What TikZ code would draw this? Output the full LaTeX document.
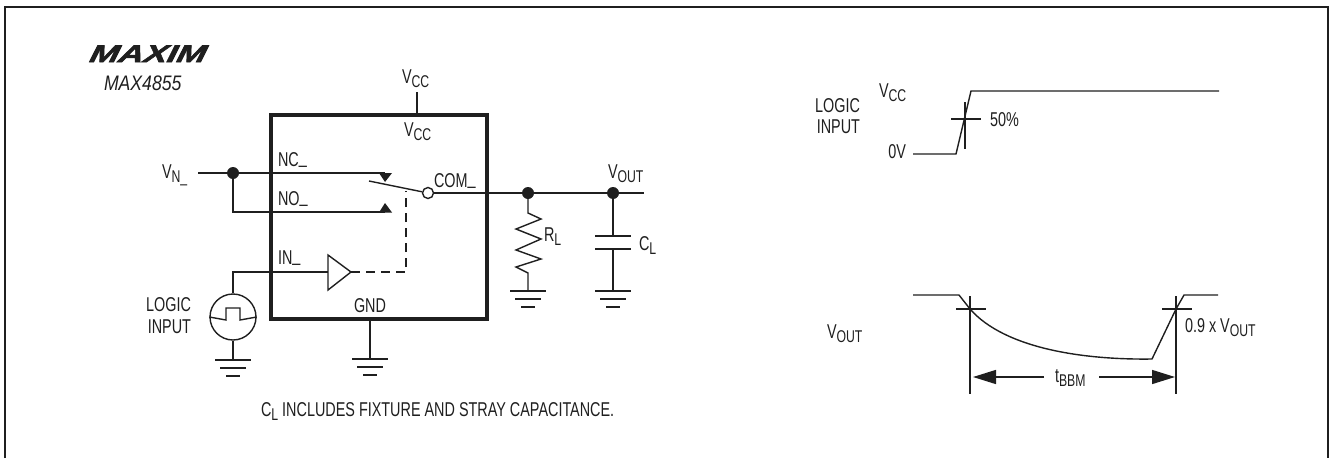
\documentclass[tikz,border=0pt]{standalone}
\usepackage{fontspec}
\setmainfont[FakeStretch=0.72]{Liberation Sans}
\newfontfamily\logofont[FakeStretch=1.45,FakeSlant=0.5,FakeBold=2.5]{Liberation Sans Bold}
\newfontfamily\itfont[FakeStretch=0.84]{Liberation Sans Italic}
\usetikzlibrary{arrows.meta}
\newcommand{\lowered}[1]{\raisebox{-4pt}{\fontsize{17}{18}\selectfont #1}}
\newcommand{\us}{\raisebox{2.5pt}{\_}}
\definecolor{ink}{gray}{0.12}
\tikzset{
  x=1pt,y=-1pt,
  wire/.style={draw=ink,line width=1.4pt},
  frameline/.style={draw=ink,line width=2.6pt},
  chip/.style={draw=ink,line width=3.4pt},
  dashwire/.style={wire,dash pattern=on 9pt off 6pt},
  lab/.style={inner sep=0pt,outer sep=0pt,anchor=base west,text=ink,font=\fontsize{20}{23}\selectfont},
  labc/.style={lab,anchor=base,align=center},
  dot/.style={circle,fill=ink,draw=none,inner sep=0pt,minimum size=12pt},
  ring/.style={circle,draw=ink,line width=1.4pt,fill=white,inner sep=0pt,minimum size=11pt},
  src/.style={circle,draw=ink,line width=1.4pt,inner sep=0pt,minimum size=46pt},
  tip/.style={fill=ink,draw=none},
  dimarrow/.style={wire,-{Triangle[length=23pt,width=14pt]}},
  ground/.pic={
    \coordinate (-top) at (0,0);
    \draw[wire] (-18,0) -- (18,0);
    \draw[wire] (-13,8) -- (13,8);
    \draw[wire] (-7,16) -- (7,16);
  },
}
\begin{document}
\begin{tikzpicture}
\useasboundingbox (0,0) rectangle (1329,458);
% outer frame
\coordinate (fa) at (5,458);
\coordinate (fb) at (5,7);
\coordinate (fc) at (1328,7);
\coordinate (fd) at (1328,458);
\draw[frameline] (fa) -- (fb) -- (fc) -- (fd);
% logo and part number
\node[lab,font=\logofont\fontsize{24}{26}\selectfont] (logo) at (87,62) {MAXIM};
\node[lab,font=\itfont\fontsize{21}{24}\selectfont] (part) at (104,90) {MAX4855};
% chip
\coordinate (c1) at (271,115);
\coordinate (c2) at (487,319);
\draw[chip] (c1) rectangle (c2);
\node[lab] (vcctop) at (402,83) {V\lowered{CC}};
\node[lab] (vccin) at (404,136) {V\lowered{CC}};
\coordinate (vcca) at (417,92);
\coordinate (vccb) at (417,115);
\draw[wire] (vcca) -- (vccb);
\node[lab] (nc) at (278,166) {NC\us};
\node[lab] (no) at (278,205) {NO\us};
\node[lab] (com) at (434,187) {COM\us};
\node[lab] (in) at (278,264) {IN\us};
\node[labc] (gnd) at (370,312) {GND};
\node[lab] (vn) at (162,178) {V\lowered{N\_}};
% input wires
\coordinate (vnstart) at (198,173);
\node[dot] (j1) at (233,173) {};
\coordinate (nctip) at (385,173);
\coordinate (notip) at (385,212);
\coordinate (j1low) at (233,212);
\draw[wire] (vnstart) -- (j1) -- (nctip);
\draw[wire] (j1) -- (j1low) -- (notip);
\fill[tip] (379,173) -- (392,173) -- (385,182) -- cycle;
\fill[tip] (379,212.5) -- (392,212.5) -- (385,203) -- cycle;
% switch
\node[ring] (pole) at (428,193) {};
\coordinate (armend) at (369,181);
\draw[wire] (armend) -- (pole);
\node[dot] (j2) at (528,193) {};
\node[dot] (j3) at (613,193) {};
\coordinate (outend) at (644,193);
\draw[wire] (pole) -- (j2) -- (j3) -- (outend);
\node[lab] (vout) at (608,178) {V\lowered{OUT}};
% buffer and dashed control
\node[coordinate] (buftop) at (328,255) {};
\node[coordinate] (bufbot) at (328,290) {};
\node[coordinate] (bufout) at (351,272) {};
\node[coordinate] (bufin) at (328,272) {};
\draw[wire,line join=miter] (buftop) -- (bufbot) -- (bufout) -- cycle;
\coordinate (dashcorner) at (406,272);
\coordinate (dashtop) at (406,191);
\draw[dashwire] (bufout) -- (dashcorner) -- (dashtop);
% logic source
\node[src] (source) at (233,317) {};
\coordinate (incorner) at (233,272);
\draw[wire] (source) -- (incorner) -- (bufin);
\coordinate (p0) at (source.west);
\coordinate (p5) at (source.east);
\draw[wire] (p0) -- (226,320) -- (226,308) -- (240,308) -- (240,320) -- (p5);
\node[lab,anchor=base east] (li1) at (191,311) {LOGIC};
\node[lab,anchor=base east] (li2) at (191,333) {INPUT};
\pic (g1) at (233,360) {ground};
\draw[wire] (source) -- (g1-top);
\coordinate (gndpin) at (370,319);
\pic (g2) at (370,359) {ground};
\draw[wire] (gndpin) -- (g2-top);
% load resistor
\pic (g3) at (528,291) {ground};
\coordinate (r0) at (528,213);
\coordinate (r1) at (541,219);
\coordinate (r2) at (516,229);
\coordinate (r3) at (541,239);
\coordinate (r4) at (516,250);
\coordinate (r5) at (541,259);
\coordinate (r6) at (516,267);
\coordinate (r7) at (528,273);
\draw[wire,line join=miter] (j2) -- (r0) -- (r1) -- (r2) -- (r3) -- (r4) -- (r5) -- (r6) -- (r7) -- (g3-top);
\node[lab] (rl) at (544,241) {R\lowered{L}};
% load capacitor
\pic (g4) at (613,291) {ground};
\coordinate (capa) at (613,236);
\coordinate (capb) at (613,249);
\draw[wire] (j3) -- (capa);
\draw[wire] (capb) -- (g4-top);
\coordinate (capal) at (595,236);
\coordinate (capar) at (631,236);
\coordinate (capbl) at (595,249);
\coordinate (capbr) at (631,249);
\draw[wire] (capal) -- (capar);
\draw[wire] (capbl) -- (capbr);
\node[lab] (cl) at (639,250) {C\lowered{L}};
\node[lab] (note) at (261,416) {C\lowered{L} INCLUDES FIXTURE AND STRAY CAPACITANCE.};
% upper timing
\node[lab] (tvcc) at (879,97) {V\lowered{CC}};
\node[lab,anchor=base east] (tl1) at (860,112) {LOGIC};
\node[lab,anchor=base east] (tl2) at (860,133) {INPUT};
\node[lab,anchor=base east] (t0v) at (906,158) {0V};
\coordinate (u0) at (913,154);
\coordinate (u1) at (956,154);
\coordinate (u2) at (971,91);
\coordinate (u3) at (1219,91);
\draw[wire] (u0) -- (u1) -- (u2) -- (u3);
\coordinate (ua) at (965,102);
\coordinate (ub) at (965,149);
\coordinate (uc) at (951,119);
\coordinate (ud) at (981,119);
\draw[wire] (ua) -- (ub);
\draw[wire] (uc) -- (ud);
\node[lab] (t50) at (990,126) {50\%};
% lower timing
\node[lab] (tvout) at (827,338) {V\lowered{OUT}};
\coordinate (d0) at (913,295);
\coordinate (d1) at (959,295);
\coordinate (d2) at (970,309);
\coordinate (d3) at (1152,359);
\coordinate (d4) at (1176,309);
\coordinate (d5) at (1184,295);
\coordinate (d6) at (1218,295);
\draw[wire,line join=round] (d0) -- (d1) -- (d2) .. controls (1005,349) and (1085,360) .. (d3) -- (d4) -- (d5) -- (d6);
\coordinate (ma) at (970,296);
\coordinate (mb) at (970,394);
\coordinate (mc) at (1176,296);
\coordinate (md) at (1176,394);
\draw[wire] (ma) -- (mb);
\draw[wire] (mc) -- (md);
\coordinate (h1a) at (956,309);
\coordinate (h1b) at (986,309);
\coordinate (h2a) at (1162,309);
\coordinate (h2b) at (1192,309);
\draw[wire] (h1a) -- (h1b);
\draw[wire] (h2a) -- (h2b);
\node[lab] (tb) at (1055,382) {t\lowered{BBM}};
\node[lab] (t09) at (1185,332) {0.9 x V\lowered{OUT}};
\coordinate (al) at (1044,377);
\coordinate (at) at (973,377);
\coordinate (ar) at (1099,377);
\coordinate (as) at (1175,377);
\draw[dimarrow] (al) -- (at);
\draw[dimarrow] (ar) -- (as);
\end{tikzpicture}
\end{document}
